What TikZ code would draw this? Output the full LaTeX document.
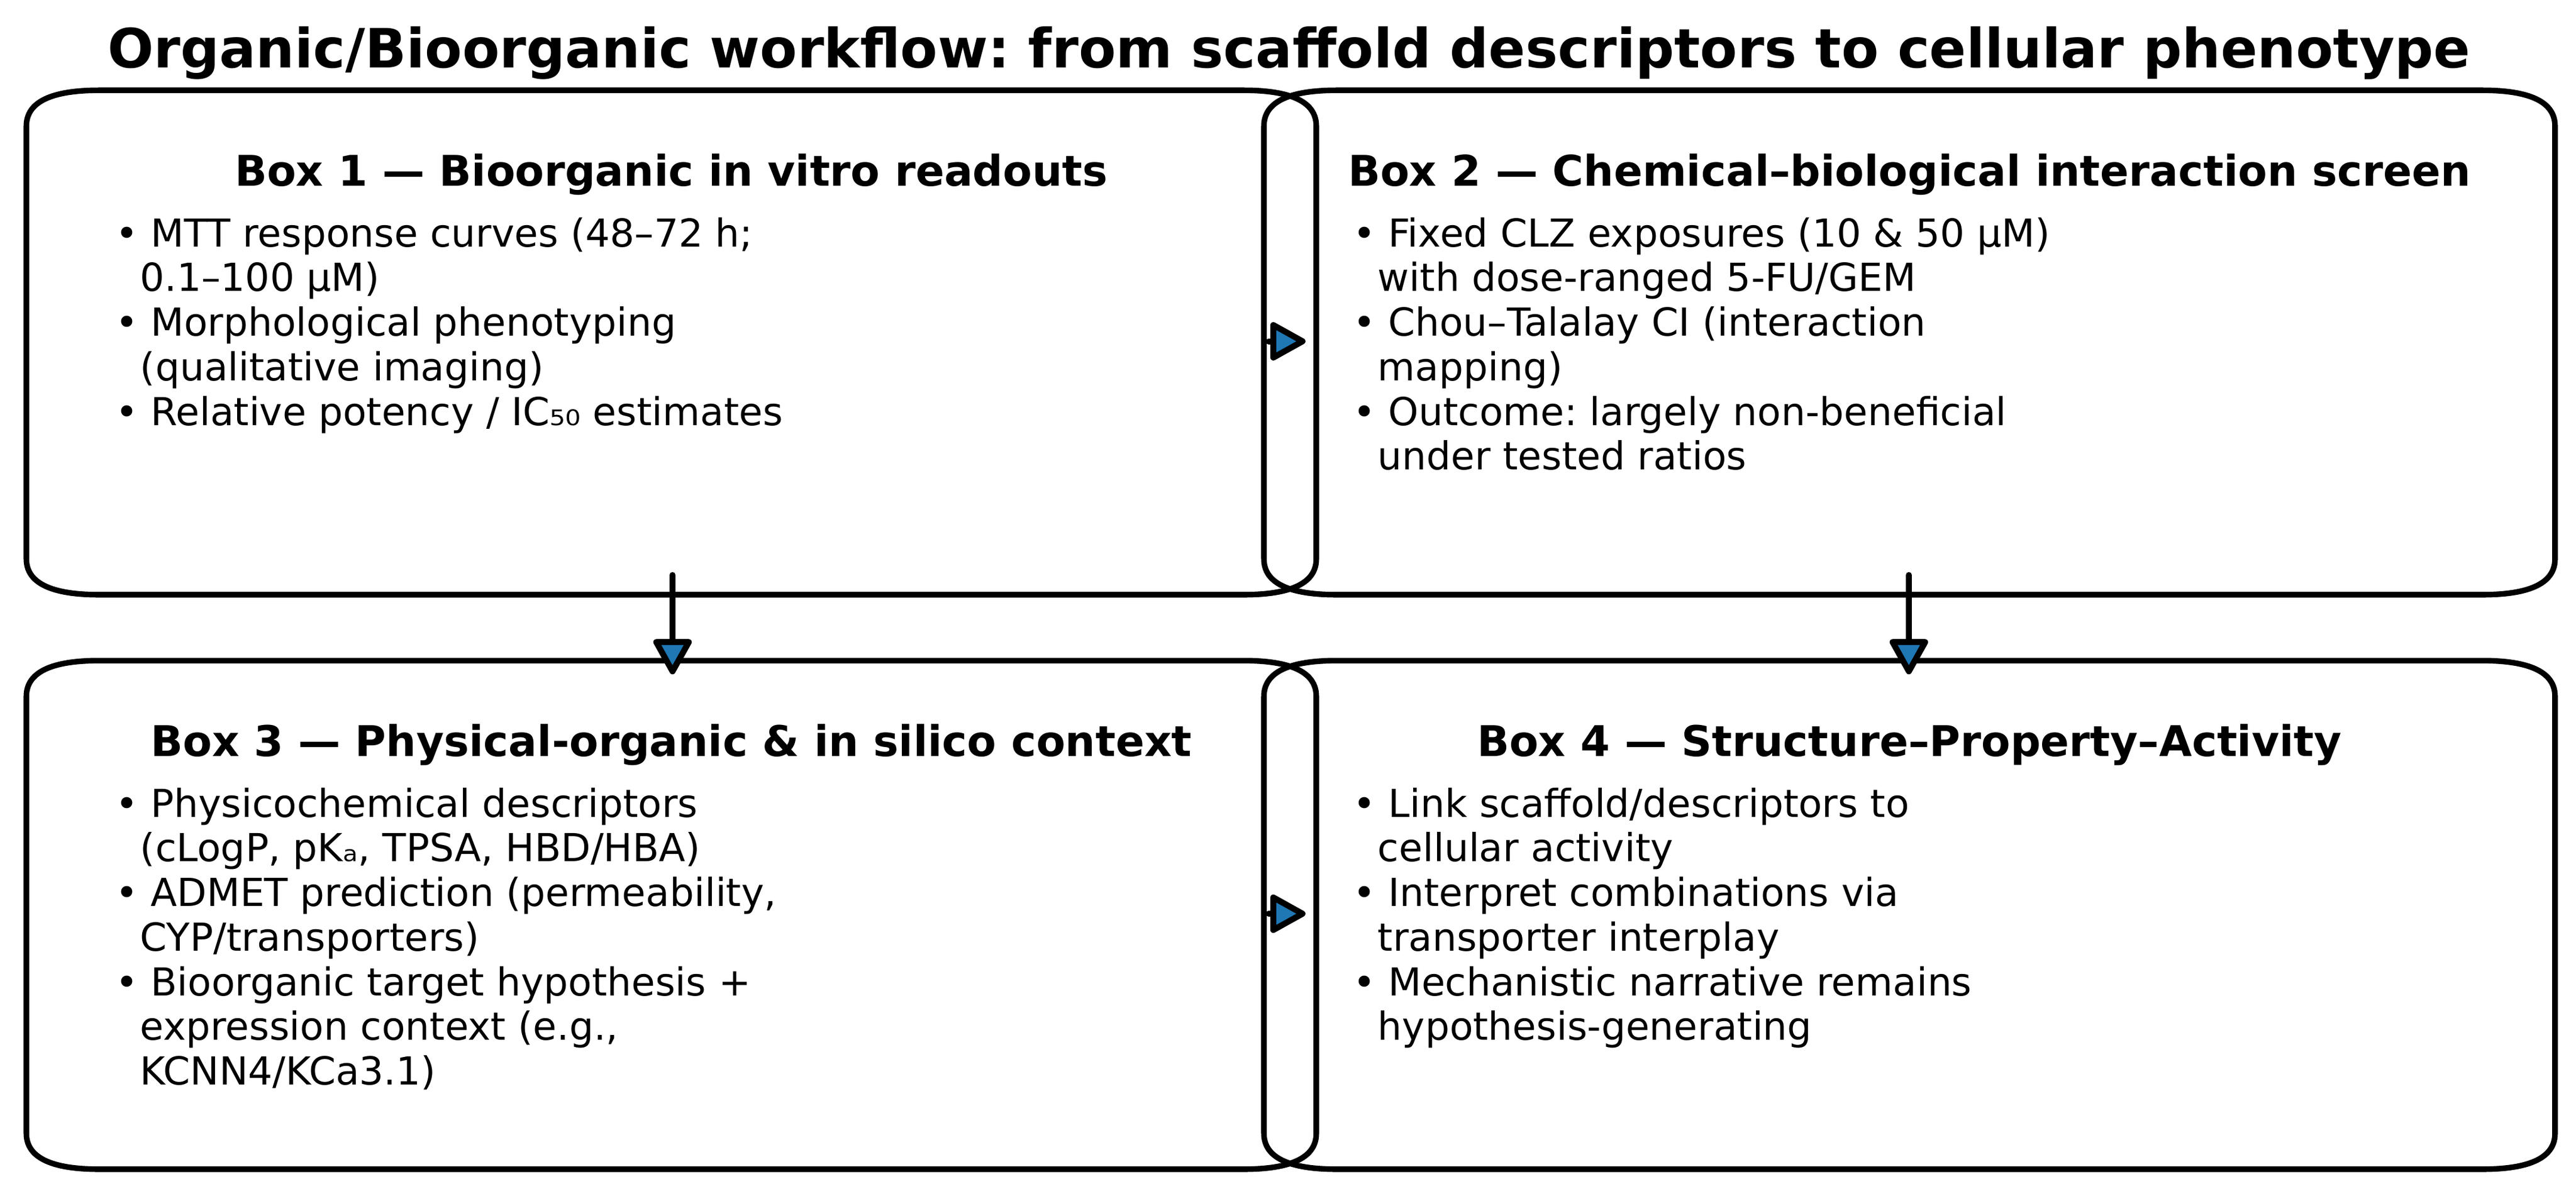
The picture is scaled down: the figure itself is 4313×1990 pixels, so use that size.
\documentclass[tikz,border=0pt]{standalone}
\usepackage{fontspec}
\setmainfont{DejaVu Sans}
\usetikzlibrary{arrows.meta,calc,fit}
\definecolor{mplblue}{HTML}{1F77B4}
\frenchspacing
\tikzset{
  boxline/.style={line width=2.25pt, black, line join=round},
  flowarrow/.style={line width=2.4pt, black, line cap=round,
    -{Triangle[length=15.5pt,width=16.5pt,fill=mplblue,round]}},
  boxframe/.style={inner sep=0pt, draw=none},
  heading/.style={anchor=base, inner sep=0pt, font=\bfseries\fontsize{17}{20}\selectfont},
  bodytext/.style={anchor=base west, inner sep=0pt, font=\fontsize{15.5}{17.95}\selectfont},
}
\newcommand\rbox[1]{%
  \draw[boxline] ($(#1.north west)+(122,0)$) -- ($(#1.north east)+(-122,0)$)
    .. controls ($(#1.north east)+(-40.7,0)$) and ($(#1.north east)+(0,20)$) .. ($(#1.north east)+(0,60)$)
    -- ($(#1.south east)+(0,-60)$)
    .. controls ($(#1.south east)+(0,-20)$) and ($(#1.south east)+(-40.7,0)$) .. ($(#1.south east)+(-122,0)$)
    -- ($(#1.south west)+(122,0)$)
    .. controls ($(#1.south west)+(40.7,0)$) and ($(#1.south west)+(0,-20)$) .. ($(#1.south west)+(0,-60)$)
    -- ($(#1.north west)+(0,60)$)
    .. controls ($(#1.north west)+(0,20)$) and ($(#1.north west)+(40.7,0)$) .. ($(#1.north west)+(122,0)$)
    -- cycle;}
\begin{document}
\begin{tikzpicture}[x=0.24pt,y=-0.24pt]
\useasboundingbox (0,0) rectangle (4313,1990);

% title
\node[anchor=base, inner sep=0pt, font=\bfseries\fontsize{21.8}{26}\selectfont] (title) at (2158,113)
  {Organic/Bioorganic workflow: from scaffold descriptors to cellular phenotype};

% box frames
\node[boxframe, fit={(45,152) (2203,995)}] (b1) {};
\node[boxframe, fit={(2117,152) (4277,995)}] (b2) {};
\node[boxframe, fit={(45,1107) (2203,1957)}] (b3) {};
\node[boxframe, fit={(2117,1107) (4277,1957)}] (b4) {};
\rbox{b1}\rbox{b2}\rbox{b3}\rbox{b4}

% headings
\node[heading] (h1) at (1124,311) {Box 1 — Bioorganic in vitro readouts};
\node[heading] (h2) at (3197,311) {Box 2 — Chemical–biological interaction screen};
\node[heading] (h3) at (1124,1266) {Box 3 — Physical-organic \& in silico context};
\node[heading] (h4) at (3197,1266) {Box 4 — Structure–Property–Activity};

% bodies
\node[bodytext] (t1) at (193,413) {\vtop{%
  \hbox{• MTT response curves (48–72 h;}
  \hbox{\ \ 0.1–100 µM)}
  \hbox{• Morphological phenotyping}
  \hbox{\ \ (qualitative imaging)}
  \hbox{• Relative potency / IC₅₀ estimates}}};
\node[bodytext] (t2) at (2265,413) {\vtop{%
  \hbox{• Fixed CLZ exposures (10 \& 50 µM)}
  \hbox{\ \ with dose-ranged 5-FU/GEM}
  \hbox{• Chou–Talalay CI (interaction}
  \hbox{\ \ mapping)}
  \hbox{• Outcome: largely non-beneficial}
  \hbox{\ \ under tested ratios}}};
\node[bodytext] (t3) at (193,1368) {\vtop{%
  \hbox{• Physicochemical descriptors}
  \hbox{\ \ (cLogP, pKₐ, TPSA, HBD/HBA)}
  \hbox{• ADMET prediction (permeability,}
  \hbox{\ \ CYP/transporters)}
  \hbox{• Bioorganic target hypothesis +}
  \hbox{\ \ expression context (e.g.,}
  \hbox{\ \ KCNN4/KCa3.1)}}};
\node[bodytext] (t4) at (2265,1368) {\vtop{%
  \hbox{• Link scaffold/descriptors to}
  \hbox{\ \ cellular activity}
  \hbox{• Interpret combinations via}
  \hbox{\ \ transporter interplay}
  \hbox{• Mechanistic narrative remains}
  \hbox{\ \ hypothesis-generating}}};

% arrows
\coordinate (a12s) at ($(b2.west)+(8,-2)$);
\coordinate (a12e) at ($(b1.east)+(-18,-2)$);
\coordinate (a34s) at ($(b4.west)+(8,-2)$);
\coordinate (a34e) at ($(b3.east)+(-18,-2)$);
\coordinate (a13s) at ($(b1.south)+(2,-33)$);
\coordinate (a13e) at ($(b3.north)+(2,23)$);
\coordinate (a24s) at ($(b2.south)+(-1,-33)$);
\coordinate (a24e) at ($(b4.north)+(-1,23)$);
\draw[flowarrow] (a12s) -- (a12e);
\draw[flowarrow] (a34s) -- (a34e);
\draw[flowarrow] (a13s) -- (a13e);
\draw[flowarrow] (a24s) -- (a24e);
\end{tikzpicture}
\end{document}
